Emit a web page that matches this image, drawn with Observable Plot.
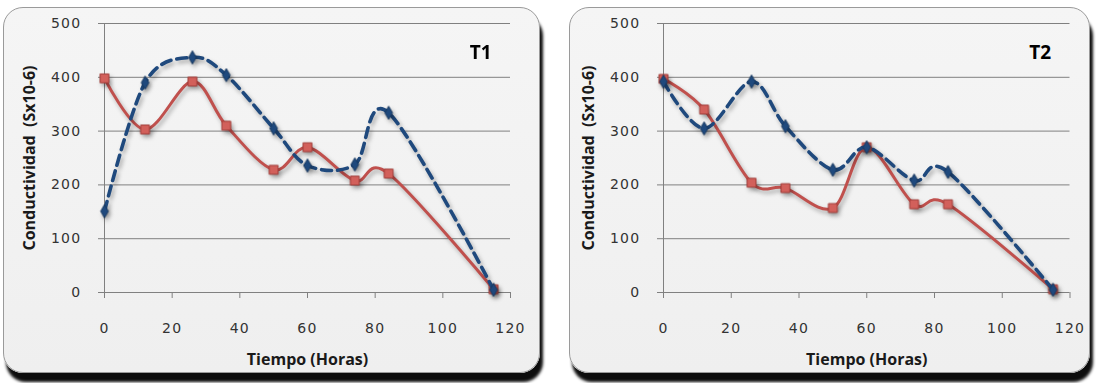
<!DOCTYPE html>
<html>
<head>
<meta charset="utf-8">
<script src="https://cdn.jsdelivr.net/npm/d3@7"></script>
<script src="https://cdn.jsdelivr.net/npm/@observablehq/plot@0.6"></script>
<style>
  body { margin: 0; background: #ffffff; width: 1098px; height: 383px; overflow: hidden; position: relative; }
  .panel { position: absolute; top: 7px; height: 366px; box-sizing: border-box; border: 1px solid #9a9a9a;
           border-radius: 20px; background: linear-gradient(#f5f5f5, #efefef); box-shadow: 3px 9px 3px rgba(0,0,0,0.95); overflow: hidden; }
  .panel svg { position: absolute; left: 0; top: 0; }
</style>
</head>
<body>
<div id="p1" class="panel" style="left:3px;width:537px"></div>
<div id="p2" class="panel" style="left:569px;width:521px"></div>
<script>
// ---- data ----
const hours = [0, 12, 26, 36, 50, 60, 74, 84, 115];
const t1Red  = [398, 303, 392, 310, 228, 270, 208, 221, 6];
const t1Blue = [151, 390, 437, 404, 305, 236, 238, 334, 5];
const t2Red  = [397, 340, 204, 194, 157, 270, 164, 164, 6];
const t2Blue = [392, 305, 392, 309, 228, 270, 208, 224, 5];
const xTicks = [0, 20, 40, 60, 80, 100, 120];
const yTicks = [0, 100, 200, 300, 400, 500];
const titles = ["T1", "T2"];
const xLabel = "Tiempo (Horas)";
const yLabel = "Conductividad  (Sx10-6)";

function chart(red, blue, title, W, mL, mR) {
  const R = hours.map((h, i) => ({h, v: red[i]}));
  const B = hours.map((h, i) => ({h, v: blue[i]}));
  const svg = Plot.plot({
    width: W, height: 364,
    marginLeft: mL, marginRight: mR, marginTop: 15, marginBottom: 80,
    style: {background: "transparent", fontFamily: "DejaVu Sans", fontSize: "14px", color: "#333", overflow: "visible"},
    x: {domain: [0, 120], ticks: xTicks, tickSize: 6, tickPadding: 25, label: xLabel, labelAnchor: "center", labelOffset: 72, labelArrow: "none"},
    y: {domain: [0, 500], ticks: yTicks, tickSize: 6, tickPadding: 17, label: yLabel, labelAnchor: "center", labelOffset: 81, labelArrow: "none"},
    marks: [
      Plot.gridY(yTicks, {stroke: "#808080", strokeOpacity: 1}),
      Plot.ruleX([0], {stroke: "#808080"}),
      Plot.line(R, {x: "h", y: "v", stroke: "#c0504d", strokeWidth: 3, curve: "cardinal", tension: 0}),
      Plot.dot(R, {x: "h", y: "v", symbol: "square", r: 5, fill: "#d2605b", stroke: "#a13c38", strokeWidth: 1}),
      Plot.line(B, {x: "h", y: "v", stroke: "#1f497d", strokeWidth: 3.6, strokeDasharray: "10,6", curve: "cardinal", tension: 0}),
      Plot.dot(B, {x: "h", y: "v", symbol: "diamond", r: 4, fill: "#1f497d", stroke: "#17375e", strokeWidth: 1}),
      Plot.text([title], {text: d => d, frameAnchor: "top-right", textAnchor: "end", lineAnchor: "top", dx: -19, dy: 22,
        fontSize: 19, fontWeight: "bold", fill: "#000", fontFamily: "Open Sans"})
    ]
  });
  const s = d3.select(svg);
  s.selectAll('g[aria-label="x-axis tick"], g[aria-label="y-axis tick"]').attr("stroke", "#808080");
  s.selectAll('g[aria-label="x-axis tick label"], g[aria-label="y-axis tick label"]').style("letter-spacing", "1.3px").attr("fill", "#333");
  s.selectAll('g[aria-label="x-axis label"], g[aria-label="y-axis label"]')
    .attr("font-weight", "bold").attr("font-family", "Open Sans").attr("font-size", 16).attr("fill", "#1a1a1a");
  s.selectAll('g[aria-label="line"], g[aria-label="dot"]').style("filter", "drop-shadow(2px 3px 2px rgba(0,0,0,0.3))");
  return svg;
}

document.getElementById("p1").appendChild(chart(t1Red, t1Blue, titles[0], 535, 100, 29));
document.getElementById("p2").appendChild(chart(t2Red, t2Blue, titles[1], 519, 93, 19.5));
</script>
</body>
</html>
